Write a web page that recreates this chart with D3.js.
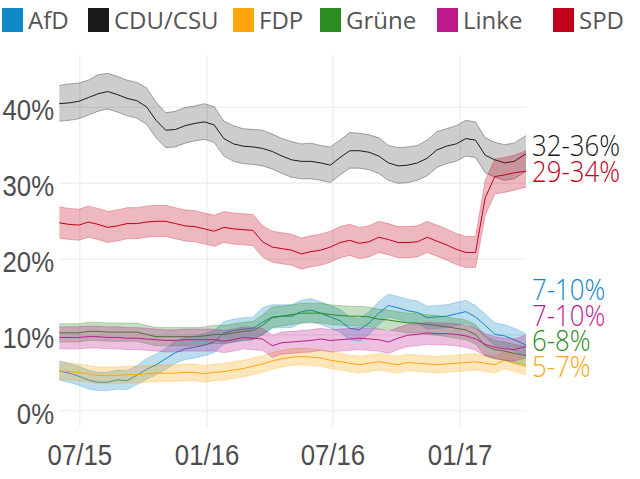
<!DOCTYPE html>
<html><head><meta charset="utf-8">
<script src="https://cdn.jsdelivr.net/npm/d3@7"></script>
<style>
html,body{margin:0;padding:0;background:#fff;}
svg{display:block;font-family:"Open Sans",sans-serif;}
</style></head><body>
<svg id="chart" width="640" height="479"></svg>
<script>
const dates = ["2015-06-02","2015-06-16","2015-06-30","2015-07-14","2015-07-28","2015-08-11","2015-08-25","2015-09-08","2015-09-22","2015-10-06","2015-10-20","2015-11-03","2015-11-17","2015-12-01","2015-12-15","2015-12-29",
"2016-01-12","2016-01-26","2016-02-09","2016-02-23","2016-03-08","2016-03-22","2016-04-05","2016-04-19","2016-05-03","2016-05-17","2016-05-31","2016-06-14","2016-06-28","2016-07-12","2016-07-26","2016-08-09","2016-08-23","2016-09-06","2016-09-20","2016-10-04","2016-10-18","2016-11-01","2016-11-15","2016-11-29","2016-12-13","2016-12-27",
"2017-01-10","2017-01-24","2017-02-07","2017-02-21","2017-03-07","2017-03-21","2017-04-07"];
const domainDates = ["2015-06-02","2017-04-07"];

const parties = ["AfD","CDU/CSU","FDP","Grüne","Linke","SPD"];
const colors = ["#0f88c6","#1a1a1a","#fca60c","#2b8c22","#be1a8e","#c2001b"];
const rangeLabels = ["7-10%","32-36%","5-7%","6-8%","7-10%","29-34%"];
const yTicks = [0,10,20,30,40];

const afdMid = [5.2,4.9,4.5,4.0,3.7,3.7,4.0,3.9,4.6,5.4,6.0,6.8,7.6,8.1,8.3,8.6,9.0,10.2,10.5,10.7,10.8,11.6,12.3,12.4,12.4,13.0,13.2,12.8,12.3,11.8,10.8,10.6,11.5,12.8,13.8,13.5,13.1,12.9,12.2,12.3,12.4,12.7,13.0,12.3,11.2,10.0,9.8,9.3,8.6];
const afdHi  = [6.5,6.2,5.8,5.3,5.0,5.0,5.3,5.2,5.9,6.8,7.4,8.2,9.1,9.6,9.8,10.1,10.5,11.7,12.0,12.2,12.3,13.5,13.9,13.9,13.9,14.5,14.7,14.3,13.8,13.3,12.3,12.1,13.0,14.3,15.3,15.0,14.6,14.4,13.7,13.8,13.9,14.2,14.5,13.8,12.7,11.5,11.3,10.8,10.1];
const afdLo  = [4.0,3.7,3.3,2.8,2.6,2.6,2.8,2.7,3.4,4.1,4.7,5.4,6.2,6.7,6.9,7.2,7.6,8.7,9.0,9.2,9.3,10.0,10.8,10.9,10.9,11.5,11.7,11.3,10.8,10.3,9.3,9.1,10.0,11.3,12.3,12.0,11.6,11.4,10.7,10.8,10.9,11.2,11.5,10.8,9.7,8.5,8.3,7.8,7.1];

const cduMid = [40.4,40.5,40.7,41.2,41.7,42.0,41.6,41.1,40.8,40.0,38.2,36.9,37.0,37.5,37.8,38.0,37.6,35.8,35.1,34.8,34.7,34.5,34.1,33.5,33.0,32.8,32.8,32.6,32.3,33.3,34.2,34.2,34.0,33.5,32.6,32.2,32.3,32.6,33.2,34.3,34.8,35.1,35.8,35.6,33.6,33.0,32.6,32.8,33.8];
const cduHi  = [42.8,43.0,43.1,43.5,44.2,44.4,44.0,43.5,43.2,42.5,40.6,39.2,39.4,39.9,40.1,40.4,40.0,38.1,37.5,37.1,37.0,36.9,36.4,35.8,35.4,35.1,35.2,34.9,34.7,35.6,36.6,36.5,36.3,35.9,34.9,34.6,34.7,34.9,35.6,36.7,37.1,37.5,38.2,38.0,35.9,35.3,35.0,35.2,36.2];
const cduLo  = [38.1,38.2,38.4,38.9,39.4,39.7,39.3,38.8,38.5,37.7,35.9,34.6,34.7,35.2,35.5,35.7,35.3,33.5,32.8,32.5,32.4,32.2,31.8,31.2,30.7,30.5,30.5,30.3,30.0,31.0,31.9,31.9,31.7,31.2,30.3,29.9,30.0,30.3,30.9,32.0,32.5,32.8,33.5,33.3,31.3,30.7,30.3,30.5,31.5];

const fdpMid = [5.2,5.1,5.0,4.8,4.6,4.6,4.6,4.7,4.7,4.8,4.9,4.9,4.9,5.0,5.0,4.8,5.0,5.1,5.3,5.5,5.8,6.1,6.5,6.8,7.0,7.1,7.0,6.9,6.6,6.4,6.2,6.0,6.2,6.4,6.2,6.0,6.3,6.2,6.1,6.0,6.1,6.2,6.3,6.4,6.2,6.0,6.6,6.2,5.8];
const fdpHi  = [6.3,6.2,6.1,5.9,5.7,5.7,5.7,5.8,5.8,5.9,6.0,6.0,6.0,6.1,6.1,5.9,6.1,6.2,6.4,6.6,6.9,7.2,7.6,7.9,8.1,8.2,8.1,8.0,7.7,7.5,7.3,7.1,7.3,7.5,7.3,7.1,7.4,7.3,7.2,7.1,7.2,7.3,7.4,7.5,7.3,7.1,7.7,7.3,6.9];
const fdpLo  = [4.1,4.0,3.9,3.7,3.5,3.5,3.5,3.6,3.6,3.7,3.8,3.8,3.8,3.9,3.9,3.7,3.9,4.0,4.2,4.4,4.7,5.0,5.4,5.7,5.9,6.0,5.9,5.8,5.5,5.3,5.1,4.9,5.1,5.3,5.1,4.9,5.2,5.1,5.0,4.9,5.0,5.1,5.2,5.3,5.1,4.9,5.5,5.1,4.7];

const grueneMid = [10.2,10.2,10.2,10.4,10.4,10.3,10.3,10.3,10.3,10.0,9.7,9.7,9.7,9.7,9.7,9.8,10.0,10.0,10.2,10.4,10.5,11.2,12.2,12.4,12.6,12.8,12.8,12.8,12.6,12.5,12.4,12.4,12.3,12.0,11.9,11.7,11.5,11.5,11.3,11.2,11.0,10.8,10.6,10.0,8.5,8.0,7.8,7.5,7.2];
const grueneHi  = [11.4,11.4,11.4,11.6,11.6,11.5,11.5,11.5,11.5,11.2,10.9,10.9,10.9,10.9,10.9,11.0,11.2,11.2,11.4,11.6,11.7,12.6,13.6,13.7,13.9,14.1,14.1,14.1,13.9,13.8,13.7,13.7,13.6,13.3,13.2,13.0,12.8,12.8,12.6,12.5,12.3,12.1,11.9,11.3,9.8,9.2,9.0,8.7,8.4];
const grueneLo  = [9.0,9.0,9.0,9.2,9.2,9.1,9.1,9.1,9.1,8.8,8.5,8.5,8.5,8.5,8.5,8.6,8.8,8.8,9.0,9.2,9.3,9.9,10.9,11.1,11.3,11.5,11.5,11.5,11.3,11.2,11.1,11.1,11.0,10.7,10.6,10.4,10.2,10.2,10.0,9.9,9.7,9.5,9.3,8.7,7.2,6.8,6.6,6.3,6.0];

const linkeMid = [9.6,9.6,9.6,9.7,9.7,9.6,9.6,9.5,9.5,9.4,9.3,9.2,9.2,9.3,9.3,9.3,9.3,9.1,9.3,9.6,9.5,9.4,8.5,8.9,9.0,9.1,9.2,9.4,9.2,9.3,9.4,9.5,9.4,9.3,9.0,9.5,9.9,10.0,10.2,10.1,10.1,10.0,9.8,9.4,8.7,8.3,8.1,8.0,8.4];
const linkeHi  = [11.0,11.0,11.0,11.1,11.1,11.0,11.0,10.9,10.9,10.8,10.7,10.6,10.6,10.7,10.7,10.7,10.7,10.5,10.7,11.0,10.9,10.8,9.9,10.3,10.4,10.5,10.6,10.8,10.6,10.7,10.8,10.9,10.8,10.7,10.4,10.9,11.3,11.4,11.6,11.5,11.5,11.4,11.2,10.8,10.1,9.7,9.5,9.4,9.9];
const linkeLo  = [8.1,8.1,8.1,8.2,8.2,8.1,8.1,8.0,8.0,7.9,7.8,7.7,7.7,7.8,7.8,7.8,7.8,7.6,7.8,8.1,8.0,7.9,7.0,7.4,7.5,7.6,7.7,7.9,7.7,7.8,7.9,8.0,7.9,7.8,7.5,8.0,8.4,8.5,8.7,8.6,8.6,8.5,8.3,7.9,7.2,6.8,6.6,6.5,6.9];

const spdMid = [24.7,24.5,24.4,24.8,24.5,24.1,24.3,24.6,24.6,24.8,24.9,24.9,24.6,24.3,24.2,23.9,23.6,24.1,23.9,23.8,23.7,22.2,21.5,21.3,21.1,20.6,20.9,21.1,21.5,22.1,22.4,22.0,22.2,22.8,22.5,22.1,22.1,22.2,22.8,22.3,21.8,21.2,20.8,20.8,28.0,30.8,31.0,31.3,31.5];
const spdHi  = [26.8,26.6,26.5,26.9,26.6,26.2,26.4,26.7,26.7,26.9,27.0,27.0,26.7,26.4,26.3,26.0,25.7,26.2,26.0,25.9,25.8,24.3,23.6,23.4,23.2,22.7,23.0,23.2,23.6,24.2,24.5,24.1,24.3,24.9,24.6,24.2,24.2,24.3,24.9,24.4,23.9,23.3,22.9,22.9,30.3,33.1,33.3,33.6,34.2];
const spdLo  = [22.7,22.5,22.4,22.8,22.5,22.1,22.3,22.6,22.6,22.8,22.9,22.9,22.6,22.3,22.2,21.9,21.6,22.1,21.9,21.8,21.7,20.2,19.5,19.3,19.1,18.6,18.9,19.1,19.5,20.1,20.4,20.0,20.2,20.8,20.5,20.1,20.1,20.2,20.8,20.3,19.8,19.2,18.8,18.8,25.7,28.5,28.7,29.0,29.4];

const mids = [afdMid, cduMid, fdpMid, grueneMid, linkeMid, spdMid];
const his  = [afdHi, cduHi, fdpHi, grueneHi, linkeHi, spdHi];
const los  = [afdLo, cduLo, fdpLo, grueneLo, linkeLo, spdLo];

(function () {
  const pL = 59.3, pR = 526, pT = 55, pB = 427;
  const parse = d3.timeParse("%Y-%m-%d");
  const xDates = dates.map(parse);

  const svg = d3.select("#chart");
  const x = d3.scaleTime().domain(domainDates.map(parse)).range([pL, pR]);
  const y = d3.scaleLinear().domain([0, 40]).range([410.3, 106.7]);

  const textCol = "#4d4d4d";
  const squeeze = 0.86;

  const gx = svg.append("g").attr("transform", `translate(0,${pB})`)
    .call(d3.axisBottom(x).ticks(d3.timeMonth.every(6)).tickFormat(d3.timeFormat("%m/%y"))
          .tickSize(-(pB - pT)).tickPadding(0));
  gx.select(".domain").remove();
  gx.selectAll(".tick line").attr("stroke", "#ebebeb").attr("stroke-width", 1.1);
  gx.selectAll(".tick text").attr("y", 38).attr("dy", 0)
    .attr("fill", textCol).attr("font-size", 30).attr("font-weight", 300)
    .attr("transform", `scale(${squeeze},1)`).attr("text-anchor", "middle");

  const gy = svg.append("g").attr("transform", `translate(${pL},0)`)
    .call(d3.axisLeft(y).tickValues(yTicks).tickFormat(d => d + "%")
          .tickSize(-(pR - pL)).tickPadding(0));
  gy.select(".domain").remove();
  gy.selectAll(".tick line").attr("stroke", "#ebebeb").attr("stroke-width", 1.1);
  gy.selectAll(".tick text").attr("x", -6).attr("dy", 13)
    .attr("fill", textCol).attr("font-size", 30).attr("font-weight", 300)
    .attr("transform", `scale(${squeeze},1)`).attr("text-anchor", "end");

  const plot = svg.append("g");
  parties.forEach((p, i) => {
    const pts = xDates.map((d, j) => ({d, m: mids[i][j], lo: los[i][j], hi: his[i][j]}));
    const isCdu = p === "CDU/CSU";
    const area = d3.area().x(e => x(e.d)).y0(e => y(e.lo)).y1(e => y(e.hi));
    plot.append("path").datum(pts).attr("d", area)
      .attr("fill", colors[i]).attr("fill-opacity", isCdu ? 0.22 : 0.28)
      .attr("stroke", "none");
    ["lo", "hi"].forEach(k => {
      plot.append("path").datum(pts)
        .attr("d", d3.line().x(e => x(e.d)).y(e => y(e[k])))
        .attr("fill", "none").attr("stroke", colors[i])
        .attr("stroke-opacity", isCdu ? 0.45 : 0.35).attr("stroke-width", 0.8);
    });
    plot.append("path").datum(pts)
      .attr("d", d3.line().x(e => x(e.d)).y(e => y(e.m)))
      .attr("fill", "none").attr("stroke", colors[i]).attr("stroke-width", 1);
  });

  const last = dates.length - 1;
  const ends = parties.map((p, i) => ({i, y: y(mids[i][last])}));
  ends.sort((a, b) => b.y - a.y);
  for (let j = 1; j < ends.length; j++) {
    if (ends[j].y > ends[j - 1].y - 25.5) ends[j].y = ends[j - 1].y - 25.5;
  }
  ends.forEach(e => {
    svg.append("g").attr("transform", `translate(532,${e.y})`)
      .append("text").attr("x", 0).attr("y", 10.7)
      .attr("font-size", 30).attr("font-weight", 300)
      .attr("fill", colors[e.i]).attr("transform", `scale(${squeeze},1)`)
      .text(rangeLabels[e.i]);
  });

  const legX = [2, 88, 233, 320, 437, 553];
  const leg = svg.append("g");
  parties.forEach((p, i) => {
    leg.append("rect").attr("x", legX[i]).attr("y", 8).attr("width", 21).attr("height", 24)
      .attr("fill", colors[i]);
    leg.append("text").attr("x", legX[i] + 26).attr("y", 29)
      .attr("font-size", 24).attr("font-weight", 400).attr("fill", "#555")
      .text(p);
  });
})();
</script>
</body></html>
